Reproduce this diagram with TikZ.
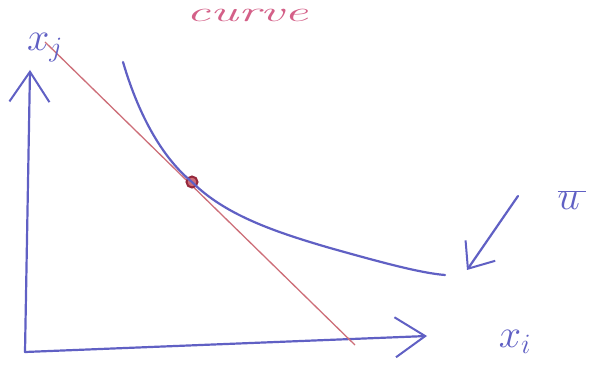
\documentclass[tikz,border=0pt]{standalone}
\usepackage{fix-cm}
\usetikzlibrary{arrows.meta}
\definecolor{pen}{RGB}{96,96,196}
\definecolor{pink}{RGB}{212,96,136}
\definecolor{budget}{RGB}{205,110,120}
\definecolor{dot}{RGB}{150,40,60}
\tikzset{
  stroke/.style={draw=pen, line width=2.2pt, line cap=round, line join=round},
  bigtip/.style={-{Straight Barb[length=30pt,width=40pt,line width=2pt]}},
  lbl/.style={text=pen, inner sep=0pt, font=\fontsize{40}{40}\selectfont}
}
\begin{document}
\begin{tikzpicture}[x=1pt,y=-1pt]
\useasboundingbox (0,0) rectangle (616,374);
\fill[white] (0,0) rectangle (616,374);
% title
\node[text=pink, font=\fontsize{28}{28}\selectfont\itshape, anchor=base, inner sep=0pt, xscale=1.9] (title) at (247,22) {curve};
% axes
\coordinate (O) at (25,352);
\coordinate (ytip) at (30,70);
\coordinate (xtip) at (427,336);
\draw[stroke, bigtip] (O) -- (ytip);
\draw[stroke, bigtip] (O) -- (xtip);
% budget line
\coordinate (b1) at (45,42);
\coordinate (b2) at (355,345);
\draw[budget, line width=1.3pt] (b1) -- (b2);
% indifference curve
\coordinate (c1) at (123,62);
\coordinate (c2) at (445,275);
\node[circle, draw=dot, fill=budget, line width=2pt, minimum size=11pt, inner sep=0pt] (P) at (192,182) {};
\draw[stroke] (c1) .. controls (140,120) and (165,160) .. (P.center)
  .. controls (225,215) and (275,232) .. (330,248)
  .. controls (380,262) and (420,273) .. (c2);
% u-bar arrow
\coordinate (a1) at (518,196);
\coordinate (a2) at (467,270);
\draw[stroke, -{Straight Barb[length=22pt,width=36pt,line width=2pt]}] (a1) -- (a2);
% labels
\node[lbl] (xj) at (45,48) {$x_j$};
\node[lbl] (xi) at (515,342) {$x_i$};
\node[lbl] (ubar) at (572,200) {$\overline{u\,}$};
\end{tikzpicture}
\end{document}
